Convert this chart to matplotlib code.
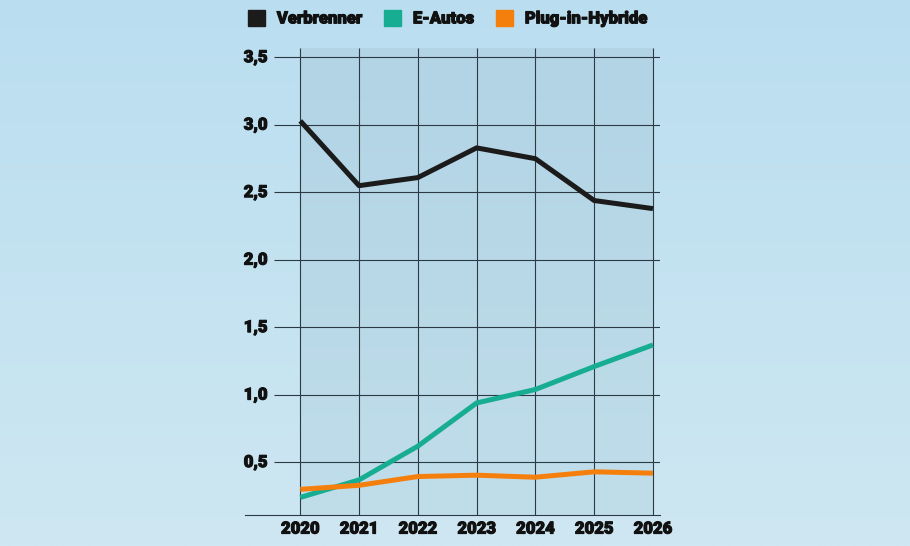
import matplotlib

matplotlib.use("Agg")

import matplotlib.pyplot as plt
import matplotlib.patheffects as pe
import numpy as np
from matplotlib.patches import Patch
from matplotlib.transforms import blended_transform_factory

YEARS = [2020, 2021, 2022, 2023, 2024, 2025, 2026]
VERBRENNER = [3.03, 2.55, 2.61, 2.83, 2.75, 2.44, 2.38]
E_AUTOS = [0.24, 0.37, 0.62, 0.94, 1.04, 1.21, 1.37]
PLUG_IN = [0.30, 0.33, 0.395, 0.405, 0.39, 0.43, 0.42]
Y_TICKS = [0.5, 1.0, 1.5, 2.0, 2.5, 3.0, 3.5]
Y_LABELS = ["0,5", "1,0", "1,5", "2,0", "2,5", "3,0", "3,5"]
SERIES_NAMES = ["Verbrenner", "E-Autos", "Plug-in-Hybride"]
SERIES_COLORS = ["#1b1b1b", "#17ad92", "#f57f0c"]

FAMILY = ["Roboto", "DejaVu Sans"]
TEXT_COLOR = "#111111"
HEAVY = [pe.withStroke(linewidth=0.8, foreground=TEXT_COLOR)]
GRID_COLOR = "#2b3a44"

fig = plt.figure(figsize=(9.1, 5.46), dpi=100)

# background gradient
bg = fig.add_axes([0, 0, 1, 1])
bg.set_axis_off()
grad = np.linspace(0, 1, 256)[:, None]
top_col = np.array([186, 222, 240]) / 255
bot_col = np.array([206, 231, 242]) / 255
bg.imshow((top_col + (bot_col - top_col) * grad[:, :, None]) * np.ones((1, 2, 1)),
          aspect="auto", extent=[0, 1, 0, 1])

x_left, x_right = 2019.06, 2026.12
y_bot, y_top = 0.11, 3.57
ax = fig.add_axes([245 / 910, 1 - 515 / 546, 415 / 910, 467 / 546])
ax.set_xlim(x_left, x_right)
ax.set_ylim(y_bot, y_top)
ax.patch.set_alpha(0)

# darker plot area between first and last year
p_top = np.array([178, 212, 229]) / 255
p_bot = np.array([192, 221, 234]) / 255
ax.imshow((p_top + (p_bot - p_top) * grad[:, :, None]) * np.ones((1, 2, 1)),
          aspect="auto", extent=[YEARS[0], YEARS[-1], y_bot, y_top], zorder=0)

ax.hlines(Y_TICKS, 2019.56, x_right, color=GRID_COLOR, linewidth=0.8, zorder=1)
ax.vlines(YEARS, y_bot, y_top, color=GRID_COLOR, linewidth=0.8, zorder=1)

for values, color in zip([VERBRENNER, E_AUTOS, PLUG_IN], SERIES_COLORS):
    ax.plot(YEARS, values, color=color, linewidth=3.6, solid_capstyle="butt", zorder=3)

for side in ["top", "right", "left"]:
    ax.spines[side].set_visible(False)
ax.spines["bottom"].set_color(GRID_COLOR)
ax.spines["bottom"].set_linewidth(0.8)

ax.set_yticks([])
trans = blended_transform_factory(ax.transAxes, ax.transData)
for val, lab in zip(Y_TICKS, Y_LABELS):
    ax.text(-0.003, val, lab, transform=trans, ha="left", va="center", fontsize=12,
            color=TEXT_COLOR, family=FAMILY, weight="black", path_effects=HEAVY)

ax.set_xticks(YEARS)
ax.set_xticklabels([str(y) for y in YEARS], fontsize=12, color=TEXT_COLOR,
                   family=FAMILY, weight="black", path_effects=HEAVY)
ax.tick_params(axis="x", length=0, pad=4)

handles = [Patch(facecolor=c, edgecolor=c) for c in SERIES_COLORS]
leg = fig.legend(handles, SERIES_NAMES, loc="upper left", bbox_to_anchor=(241 / 910, 1 - 3 / 546),
                 ncol=3, frameon=False, handlelength=1.05, handleheight=1.1,
                 handletextpad=0.7, columnspacing=1.3, borderaxespad=0,
                 prop=dict(family=FAMILY, weight="black", size=12))
for t in leg.get_texts():
    t.set_color(TEXT_COLOR)
    t.set_path_effects(HEAVY)

fig.savefig("out.png", dpi=100)
